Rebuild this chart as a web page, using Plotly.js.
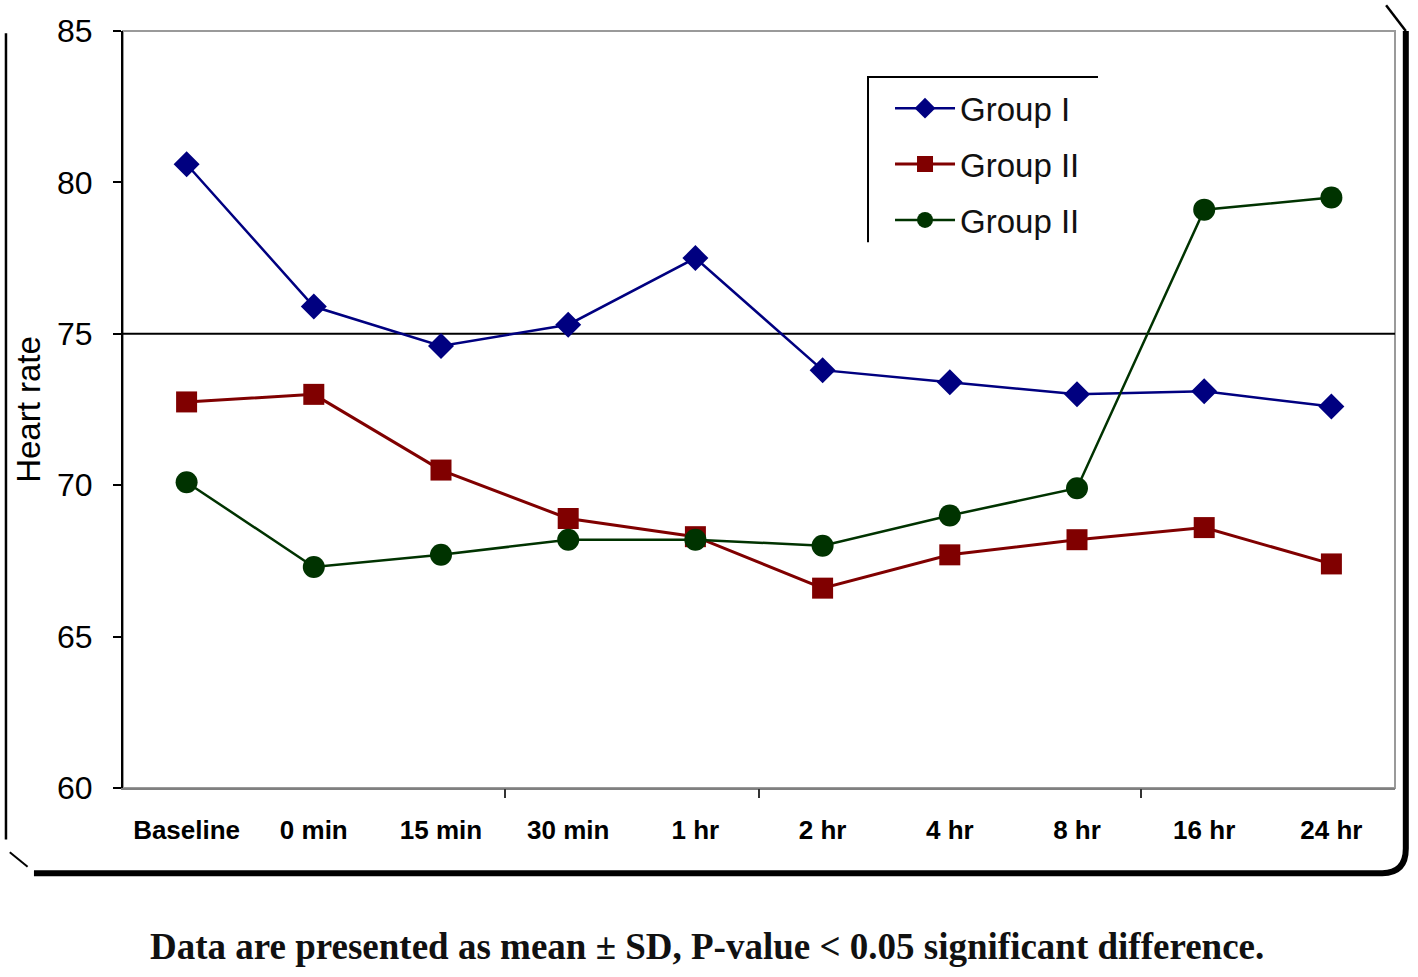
<!DOCTYPE html>
<html>
<head>
<meta charset="utf-8">
<script src="https://cdn.plot.ly/plotly-3.0.1.min.js"></script>
<style>html,body{margin:0;padding:0;background:#fff;}#chart{width:1418px;height:977px;}</style>
</head>
<body>
<div id="chart"></div>
<script>
// ---- data ----
const categories = ["Baseline", "0 min", "15 min", "30 min", "1 hr", "2 hr", "4 hr", "8 hr", "16 hr", "24 hr"];
const groupI   = [80.6, 75.9, 74.6, 75.3, 77.5, 73.8, 73.4, 73.0, 73.1, 72.6];
const groupII  = [72.75, 73.0, 70.5, 68.9, 68.3, 66.6, 67.7, 68.2, 68.6, 67.4];
const groupIII = [70.1, 67.3, 67.7, 68.2, 68.2, 68.0, 69.0, 69.9, 79.1, 79.5];
const seriesNames = ["Group I", "Group II", "Group II"];
const yTicks = [60, 65, 70, 75, 80, 85];
const referenceLine = 75;
const boundaryTicks = [2.5, 4.5, 7.5];
const yTitle = "Heart rate";
const caption = "Data are presented as mean \u00b1 SD, P-value < 0.05 significant difference.";

const xIdx = categories.map((c, i) => i);

const traces = [
  {x: xIdx, y: groupI, name: seriesNames[0], legendgroup: "a", mode: "lines+markers",
   line: {color: "#000080", width: 2.5}, marker: {symbol: "diamond", size: 20, color: "#000080"}},
  {x: xIdx, y: groupII, name: seriesNames[1], legendgroup: "b", mode: "lines+markers",
   line: {color: "#800000", width: 3}, marker: {symbol: "square", size: 21, color: "#800000"}},
  {x: xIdx, y: groupIII, name: seriesNames[2], legendgroup: "c", mode: "lines+markers",
   line: {color: "#003300", width: 2.5}, marker: {symbol: "circle", size: 22, color: "#003300"}},
  // carrier for the category-boundary tick marks axis (draws nothing)
  {x: boundaryTicks, y: boundaryTicks.map(() => null), xaxis: "x2", yaxis: "y", mode: "markers",
   showlegend: false, hoverinfo: "skip", marker: {opacity: 0}}
];

const layout = {
  width: 1418, height: 977,
  margin: {l: 123, r: 23, t: 31, b: 189},
  paper_bgcolor: "#ffffff", plot_bgcolor: "#ffffff",
  font: {family: "Liberation Sans, Arial, sans-serif", color: "#000"},
  showlegend: true,
  legend: {x: 0.603, y: 0.935, xanchor: "left", yanchor: "top",
           font: {size: 33, family: "Liberation Sans, Arial, sans-serif", color: "#111"},
           bgcolor: "rgba(255,255,255,0)", borderwidth: 0, tracegroupgap: 10, itemwidth: 60},
  xaxis: {range: [-0.5, 9.5], tickvals: xIdx, ticktext: categories, ticks: "", showgrid: false,
          zeroline: false, showline: true, linecolor: "#808080", linewidth: 2,
          tickfont: {size: 26, family: "Liberation Sans, Arial, sans-serif", weight: "bold"},
          ticklabelstandoff: 18, fixedrange: true},
  xaxis2: {range: [-0.5, 9.5], overlaying: "x", anchor: "y", side: "bottom", tickvals: boundaryTicks,
           ticks: "outside", ticklen: 9, tickwidth: 2, tickcolor: "#333", showticklabels: false,
           showgrid: false, zeroline: false, showline: false},
  yaxis: {range: [60, 85], tickvals: yTicks, ticks: "outside", ticklen: 8, tickwidth: 2, tickcolor: "#000",
          showgrid: false, zeroline: false, showline: true, linecolor: "#000", linewidth: 2,
          tickfont: {size: 32, family: "Liberation Sans, Arial, sans-serif"}, ticklabelstandoff: 14,
          title: {text: yTitle, font: {size: 33, family: "Liberation Sans, Arial, sans-serif"}, standoff: 6}},
  shapes: [
    // plot frame (gray)
    {type: "rect", xref: "paper", yref: "paper", x0: 0, x1: 1, y0: 0, y1: 1,
     line: {color: "#9a9a9a", width: 2}, layer: "below"},
    // reference line
    {type: "line", xref: "paper", yref: "y", x0: 0, x1: 1, y0: referenceLine, y1: referenceLine,
     line: {color: "#000", width: 2}, layer: "below"},
    // legend partial box (top and left edges only)
    {type: "path", xref: "paper", yref: "paper", path: "M 0.5857,0.721 L 0.5857,0.9392 L 0.7665,0.9392",
     line: {color: "#000", width: 2}},
    // outer frame: left thin
    {type: "path", xref: "paper", yref: "paper", path: "M -0.0920,0.997 L -0.0920,-0.068",
     line: {color: "#000", width: 2.5}},
    {type: "path", xref: "paper", yref: "paper", path: "M -0.089,-0.085 L -0.075,-0.104",
     line: {color: "#000", width: 2}},
    // outer frame: bottom thick + right
    {type: "path", xref: "paper", yref: "paper",
     path: "M -0.070,-0.1125 L 0.990,-0.1125 Q 1.0085,-0.1125 1.0085,-0.080 L 1.0085,1.000",
     line: {color: "#000", width: 6}},
    {type: "path", xref: "paper", yref: "paper", path: "M 1.0085,1.000 L 0.993,1.034",
     line: {color: "#000", width: 2.5}}
  ],
  annotations: [
    {xref: "paper", yref: "paper", x: 0.459, y: -0.21, text: caption, showarrow: false,
     xanchor: "center", yanchor: "middle",
     font: {size: 37, family: "Liberation Serif, Times New Roman, serif", weight: "bold", color: "#111"}}
  ]
};

Plotly.newPlot("chart", traces, layout, {displayModeBar: false, staticPlot: true});
</script>
</body>
</html>
